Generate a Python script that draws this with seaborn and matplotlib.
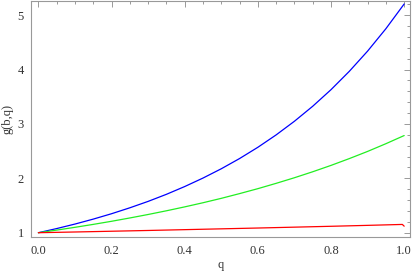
import numpy as np
import pandas as pd
import seaborn as sns
import matplotlib.pyplot as plt
from matplotlib.ticker import MultipleLocator

# values
q = [0.0, 0.05, 0.1, 0.15, 0.2, 0.25, 0.3, 0.35, 0.4, 0.45, 0.5,
     0.55, 0.6, 0.65, 0.7, 0.75, 0.8, 0.85, 0.9, 0.95, 1.0]
g_blue = [1.0, 1.076, 1.159, 1.250, 1.349, 1.458, 1.576, 1.706, 1.849, 2.005, 2.176,
          2.364, 2.571, 2.799, 3.050, 3.326, 3.631, 3.968, 4.340, 4.752, 5.207]
g_green = [1.0, 1.048, 1.099, 1.153, 1.210, 1.271, 1.335, 1.403, 1.475, 1.551, 1.632,
           1.719, 1.810, 1.908, 2.011, 2.121, 2.238, 2.363, 2.495, 2.637, 2.787]
q_red = [0.0, 0.1, 0.2, 0.3, 0.4, 0.5, 0.6, 0.7, 0.8, 0.9, 0.995, 1.0]
g_red = [1.0, 1.013, 1.027, 1.041, 1.056, 1.071, 1.086, 1.102, 1.118, 1.135, 1.152, 1.12]

sns.set_style('white')
plt.rcParams['font.family'] = ['Liberation Serif', 'DejaVu Serif']

fig = plt.figure(figsize=(4.15, 2.75), dpi=100)
ax = fig.add_axes([0.074, 0.138, 0.914, 0.858])

sns.lineplot(x=q, y=g_blue, color='#0000ff', lw=0.9, ax=ax)
sns.lineplot(x=q, y=g_green, color='#22ee22', lw=0.9, ax=ax)
sns.lineplot(x=q_red, y=g_red, color='#ff0000', lw=0.9, ax=ax)

ax.set_xlim(-0.021, 1.016)
ax.set_ylim(0.92, 5.26)
ax.xaxis.set_major_locator(MultipleLocator(0.2))
ax.xaxis.set_minor_locator(MultipleLocator(0.05))
ax.yaxis.set_major_locator(MultipleLocator(1))
ax.yaxis.set_minor_locator(MultipleLocator(0.2))
ax.xaxis.set_major_formatter(plt.FuncFormatter(lambda v, p: f'{v:.1f}'))
ax.yaxis.set_major_formatter(plt.FuncFormatter(lambda v, p: f'{v:.0f}'))

for s in ax.spines.values():
    s.set_color('#999999')
    s.set_linewidth(0.8)
ax.tick_params(which='both', direction='in', top=True, right=True, color='#999999',
               labelsize=9, labelcolor='#333333', width=0.7)
ax.tick_params(which='major', length=4)
ax.tick_params(which='minor', length=2)
ax.tick_params(axis='x', which='major', pad=6)
ax.tick_params(axis='y', which='major', pad=5)

ax.set_xlabel('q', fontsize=9, color='#333333', labelpad=1)
ax.set_ylabel('g(b,q)', fontsize=9, color='#333333', labelpad=3)

fig.savefig('out.png', dpi=100)
